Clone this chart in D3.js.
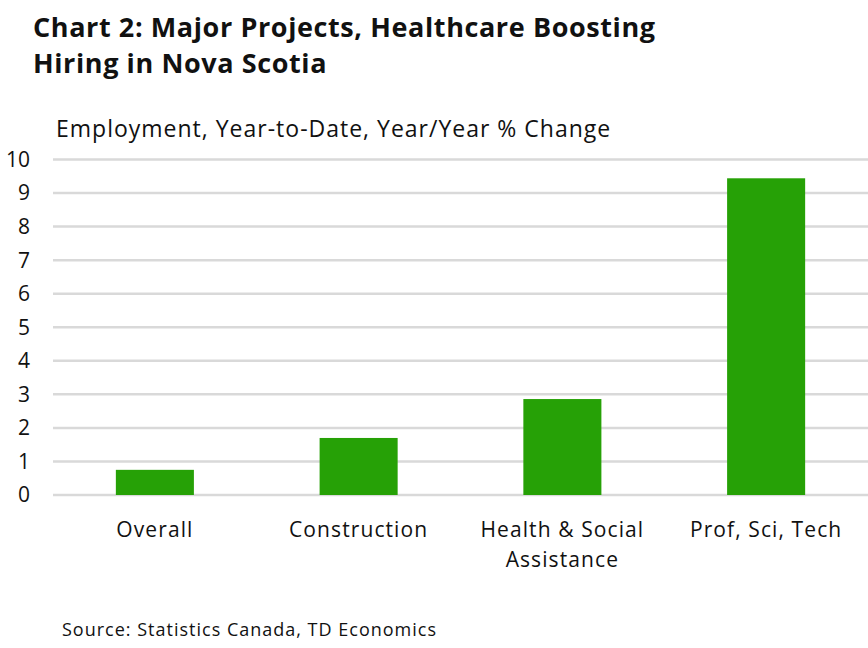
<!DOCTYPE html>
<html>
<head>
<meta charset="utf-8">
<script src="https://cdn.jsdelivr.net/npm/d3@7"></script>
<style>
  body { margin: 0; background: #fff; }
  text { font-family: "Open Sans", "Noto Sans", sans-serif; fill: #111; }
</style>
</head>
<body>
<div class="chart"></div>
<script>
var categories = ["Overall", "Construction", "Health & Social\nAssistance", "Prof, Sci, Tech"];
var values = [0.75, 1.7, 2.86, 9.44];
var yTicks = [0, 1, 2, 3, 4, 5, 6, 7, 8, 9, 10];

var width = 868, height = 648;

var svg = d3.select(".chart").append("svg")
    .attr("width", width)
    .attr("height", height);

var x = d3.scaleBand()
    .domain(categories)
    .range([53, 868])
    .paddingInner(0.617)
    .paddingOuter(0.3085);

var y = d3.scaleLinear()
    .domain([0, 10])
    .range([495, 159.5]);

// title
var title = svg.append("text")
    .attr("x", 33)
    .attr("y", 37)
    .style("font-size", "27px")
    .style("font-weight", "bold")
    .style("letter-spacing", "0.6px");
title.append("tspan").attr("x", 33).text("Chart 2: Major Projects, Healthcare Boosting");
title.append("tspan").attr("x", 33).attr("dy", 36).text("Hiring in Nova Scotia");

svg.append("text")
    .attr("x", 56)
    .attr("y", 137)
    .style("font-size", "23px")
    .style("letter-spacing", "1px")
    .text("Employment, Year-to-Date, Year/Year % Change");

// gridlines
svg.append("g")
    .selectAll("line")
    .data(yTicks)
    .join("line")
    .attr("x1", 53)
    .attr("x2", 868)
    .attr("y1", function (d) { return y(d); })
    .attr("y2", function (d) { return y(d); })
    .attr("stroke", "#d9d9d9")
    .attr("stroke-width", 2.5);

svg.append("g")
    .selectAll("text")
    .data(yTicks)
    .join("text")
    .attr("x", 30)
    .attr("y", function (d) { return y(d); })
    .attr("dy", "0.35em")
    .attr("text-anchor", "end")
    .style("font-size", "21px")
    .text(function (d) { return d; });

// bars
svg.append("g")
    .selectAll("rect")
    .data(values)
    .join("rect")
    .attr("x", function (d, i) { return x(categories[i]); })
    .attr("width", x.bandwidth())
    .attr("y", function (d) { return y(d); })
    .attr("height", function (d) { return y(0) - y(d); })
    .attr("fill", "#26a106");

// category labels
svg.append("g")
    .selectAll("text")
    .data(categories)
    .join("text")
    .attr("text-anchor", "middle")
    .attr("y", 537)
    .style("font-size", "21px")
    .style("letter-spacing", "1.1px")
    .each(function (d) {
        var t = d3.select(this);
        var cx = x(d) + x.bandwidth() / 2;
        d.split("\n").forEach(function (line, k) {
            t.append("tspan").attr("x", cx).attr("dy", k === 0 ? 0 : 30).text(line);
        });
    });

svg.append("text")
    .attr("x", 62)
    .attr("y", 636)
    .style("font-size", "18px")
    .style("letter-spacing", "1px")
    .text("Source: Statistics Canada, TD Economics");
</script>
</body>
</html>
